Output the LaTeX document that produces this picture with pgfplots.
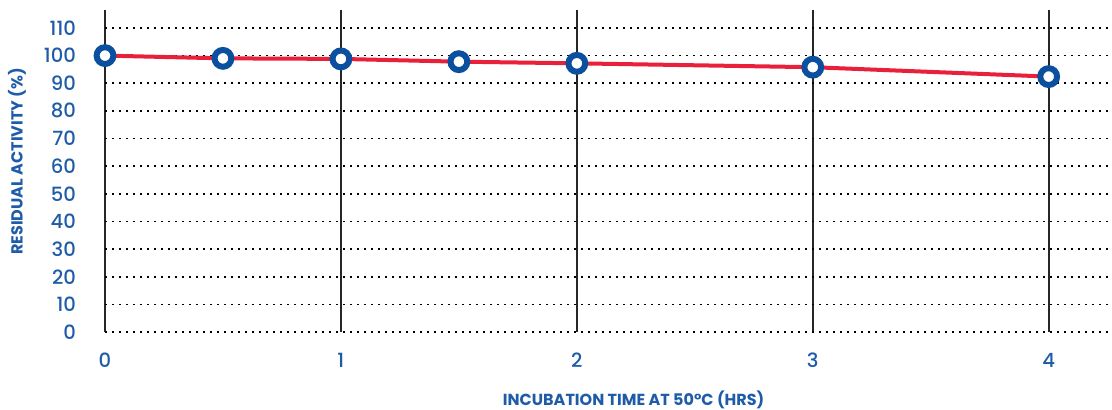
\documentclass[border=0pt]{standalone}
\usepackage{pgfplots}
\pgfplotsset{compat=1.18}
\usepackage{fontspec}
\setmainfont{Poppins}
\newfontfamily\tickfont{Poppins Medium}

\definecolor{txtblue}{HTML}{1F5CA8}
\definecolor{mkblue}{HTML}{0B4F9F}
\definecolor{linered}{HTML}{E8203A}

\begin{document}
\begin{tikzpicture}
% 1 px of the reference = 0.5pt
\useasboundingbox (-52.5pt,-39pt) rectangle (503.5pt,166pt);
\begin{axis}[
    scale only axis,
    width=502.5pt, height=161pt,
    xmin=0, xmax=4.26,
    ymin=0, ymax=116.5,
    xtick={0,1,2,3,4},
    ytick={0,10,...,110},
    axis line style={draw=none},
    major tick length=0pt,
    grid=major,
    x grid style={draw=black!85, line width=0.85pt},
    y grid style={draw=black, line width=0.85pt, dash pattern=on 0.85pt off 2.65pt},
    /pgf/number format/assume math mode=true,
    tick label style={font=\tickfont\fontsize{9.8pt}{11pt}\selectfont, text=txtblue},
    xticklabel style={anchor=north, yshift=-7pt},
    yticklabel style={anchor=east, xshift=-11pt},
    xlabel={\bfseries INCUBATION TIME AT 50°C (HRS)},
    ylabel={\bfseries RESIDUAL ACTIVITY (\%)},
    label style={font=\fontsize{8pt}{9pt}\selectfont, text=txtblue},
    x label style={at={(axis description cs:0.526,0)}, anchor=center, yshift=-34pt},
    y label style={at={(axis description cs:-0.0876,0.53)}, anchor=center},
    clip=false,
]
\addplot[linered, line width=2pt, mark=*,
    mark options={draw=mkblue, fill=white, line width=3pt, solid},
    mark size=4.2pt]
  coordinates {(0,100) (0.5,99.0) (1,98.8) (1.5,97.8) (2,97.2) (3,95.8) (4,92.4)};
\end{axis}
\end{tikzpicture}
\end{document}
